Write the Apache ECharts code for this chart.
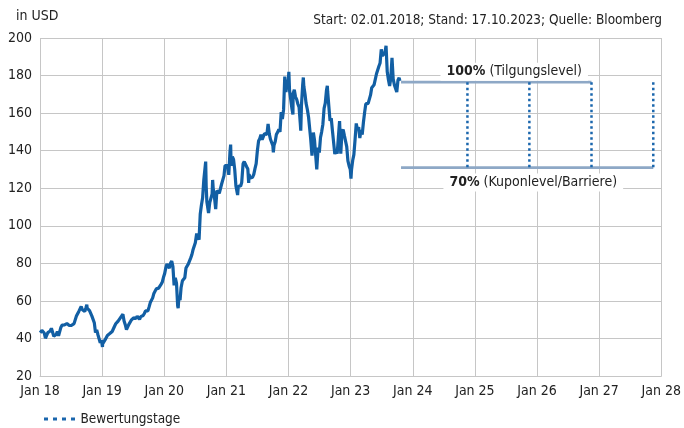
<!DOCTYPE html>
<html><head><meta charset="utf-8">
<script src="https://cdn.jsdelivr.net/npm/echarts@6/dist/echarts.min.js"></script>
<style>html,body{margin:0;padding:0;background:#fff}#c{width:684px;height:428px}</style>
</head><body><div id="c"></div>
<script>
const FONT = "'Liberation Sans Narrow','DejaVu Sans Condensed','Arial Narrow',sans-serif";
const xTicks = ['Jan 18','Jan 19','Jan 20','Jan 21','Jan 22','Jan 23','Jan 24','Jan 25','Jan 26','Jan 27','Jan 28'];
const yTicks = [20,40,60,80,100,120,140,160,180,200];

const priceDates = [
'2018-01-02','2018-01-12','2018-01-19','2018-01-26','2018-02-02','2018-02-09','2018-02-16','2018-02-23','2018-03-02','2018-03-09','2018-03-16','2018-03-23','2018-03-29','2018-04-06','2018-04-13','2018-04-20','2018-04-27','2018-05-04','2018-05-11','2018-05-18','2018-05-25','2018-06-01','2018-06-08','2018-06-15','2018-06-22','2018-06-29','2018-07-06','2018-07-13','2018-07-20','2018-07-27','2018-08-03','2018-08-10','2018-08-17','2018-08-24','2018-08-31','2018-09-07','2018-09-14','2018-09-21','2018-09-28','2018-10-03','2018-10-05','2018-10-12','2018-10-19','2018-10-26','2018-11-02','2018-11-09','2018-11-16','2018-11-23','2018-11-30','2018-12-07','2018-12-14','2018-12-21','2018-12-28',
'2019-01-03','2019-01-04','2019-01-11','2019-01-18','2019-01-25','2019-02-01','2019-02-08','2019-02-15','2019-02-22','2019-03-01','2019-03-08','2019-03-15','2019-03-22','2019-03-29','2019-04-05','2019-04-12','2019-04-18','2019-04-26','2019-05-03','2019-05-10','2019-05-17','2019-05-24','2019-05-31','2019-06-07','2019-06-14','2019-06-21','2019-06-28','2019-07-05','2019-07-12','2019-07-19','2019-07-26','2019-08-02','2019-08-09','2019-08-16','2019-08-23','2019-08-30','2019-09-06','2019-09-13','2019-09-20','2019-09-27','2019-10-04','2019-10-11','2019-10-18','2019-10-25','2019-11-01','2019-11-08','2019-11-15','2019-11-22','2019-11-29','2019-12-06','2019-12-13','2019-12-20','2019-12-27','2019-12-31',
'2020-01-03','2020-01-10','2020-01-17','2020-01-24','2020-01-31','2020-02-07','2020-02-14','2020-02-21','2020-02-28','2020-03-06','2020-03-13','2020-03-20','2020-03-23','2020-03-27','2020-04-03','2020-04-09','2020-04-17','2020-04-24','2020-05-01','2020-05-08','2020-05-15','2020-05-22','2020-05-29','2020-06-05','2020-06-12','2020-06-19','2020-06-26','2020-07-02','2020-07-10','2020-07-17','2020-07-24','2020-07-31','2020-08-07','2020-08-14','2020-08-21','2020-08-28','2020-09-01','2020-09-04','2020-09-08','2020-09-11','2020-09-18','2020-09-25','2020-10-02','2020-10-09','2020-10-12','2020-10-16','2020-10-23','2020-10-30','2020-11-06','2020-11-13','2020-11-20','2020-11-27','2020-12-04','2020-12-11','2020-12-18','2020-12-24','2020-12-31',
'2021-01-08','2021-01-15','2021-01-22','2021-01-26','2021-01-29','2021-02-05','2021-02-12','2021-02-19','2021-02-26','2021-03-05','2021-03-08','2021-03-12','2021-03-19','2021-03-26','2021-04-01','2021-04-09','2021-04-16','2021-04-23','2021-04-30','2021-05-07','2021-05-12','2021-05-14','2021-05-21','2021-05-28','2021-06-04','2021-06-11','2021-06-18','2021-06-25','2021-07-02','2021-07-09','2021-07-16','2021-07-23','2021-07-30','2021-08-06','2021-08-13','2021-08-20','2021-08-27','2021-09-03','2021-09-10','2021-09-17','2021-09-24','2021-10-01','2021-10-04','2021-10-08','2021-10-15','2021-10-22','2021-10-29','2021-11-05','2021-11-12','2021-11-19','2021-11-26','2021-12-03','2021-12-10','2021-12-17','2021-12-23','2021-12-31',
'2022-01-03','2022-01-07','2022-01-14','2022-01-21','2022-01-27','2022-01-28','2022-02-04','2022-02-11','2022-02-18','2022-02-25','2022-03-04','2022-03-11','2022-03-14','2022-03-18','2022-03-25','2022-03-29','2022-04-01','2022-04-08','2022-04-14','2022-04-22','2022-04-29','2022-05-06','2022-05-11','2022-05-13','2022-05-19','2022-05-20','2022-05-27','2022-06-03','2022-06-10','2022-06-16','2022-06-17','2022-06-24','2022-07-01','2022-07-08','2022-07-15','2022-07-22','2022-07-29','2022-08-05','2022-08-12','2022-08-17','2022-08-19','2022-08-26','2022-09-02','2022-09-09','2022-09-16','2022-09-23','2022-09-30','2022-10-07','2022-10-14','2022-10-21','2022-10-28','2022-11-04','2022-11-11','2022-11-18','2022-11-25','2022-12-02','2022-12-09','2022-12-16','2022-12-23','2022-12-30',
'2023-01-03','2023-01-06','2023-01-13','2023-01-20','2023-01-27','2023-02-03','2023-02-10','2023-02-17','2023-02-24','2023-03-03','2023-03-10','2023-03-17','2023-03-24','2023-03-31','2023-04-06','2023-04-14','2023-04-21','2023-04-28','2023-05-05','2023-05-12','2023-05-19','2023-05-26','2023-06-02','2023-06-09','2023-06-16','2023-06-23','2023-06-30','2023-07-07','2023-07-14','2023-07-21','2023-07-28','2023-07-31','2023-08-04','2023-08-11','2023-08-18','2023-08-25','2023-09-01','2023-09-08','2023-09-15','2023-09-22','2023-09-29','2023-10-06','2023-10-13','2023-10-17'
];
const priceValues = [
43.06,44.27,44.6,42.9,40.1,39.1,43.1,43.8,44.0,45.4,44.5,41.2,41.9,42.1,43.7,41.4,40.6,46.0,47.1,46.6,47.2,47.6,47.9,47.2,46.9,46.3,47.0,47.6,47.9,47.7,51.9,51.9,54.4,54.0,57.0,55.3,55.9,54.4,56.4,58.0,56.1,55.5,54.8,54.1,51.9,51.9,48.4,43.1,44.6,42.1,41.4,37.7,39.1,
35.5,37.1,38.1,39.2,39.4,41.6,42.6,42.6,43.2,43.7,43.2,46.5,47.8,47.5,49.25,49.7,50.97,51.1,52.9,49.3,47.3,44.7,43.8,47.5,48.2,49.7,49.5,51.0,50.8,50.6,51.9,51.0,50.2,51.6,50.7,52.2,53.3,54.7,54.4,54.7,56.8,59.1,59.1,61.6,63.96,65.0,66.4,65.4,66.8,67.7,68.8,69.9,72.4,73.4,
74.4,77.6,79.7,79.6,77.4,80.0,81.2,78.3,68.3,72.3,69.5,57.3,56.1,61.9,60.4,67.0,70.7,70.7,72.3,77.5,76.9,79.7,79.5,82.9,84.7,87.4,88.4,91.0,95.9,96.3,92.6,106.3,111.1,114.9,124.4,124.8,134.2,121.0,112.8,112.0,106.8,112.3,113.0,117.0,124.4,119.0,115.0,108.9,118.7,119.3,117.3,116.6,122.25,122.4,126.7,132.0,132.7,
132.05,127.14,139.07,143.2,131.96,136.76,135.37,129.87,121.26,121.42,116.36,121.03,119.99,121.21,123.0,133.0,134.16,134.32,131.46,130.21,122.77,127.45,125.43,124.61,125.89,127.35,130.46,133.11,139.96,145.11,146.39,148.56,145.86,146.14,149.1,148.19,148.6,154.3,148.97,146.06,146.92,142.65,139.14,142.9,144.84,148.69,149.8,151.28,149.99,160.55,156.81,161.84,179.45,171.14,176.28,177.57,
182.01,172.17,173.07,162.41,159.22,170.33,172.39,168.64,167.3,164.85,163.17,154.73,150.62,163.98,174.72,178.96,174.31,170.09,165.29,161.79,157.65,157.28,146.5,147.11,137.35,137.59,149.64,145.38,137.13,130.06,131.56,141.66,138.93,147.04,150.17,154.09,162.51,165.35,172.1,174.55,171.52,163.62,155.81,157.37,150.7,150.43,138.2,140.09,138.38,147.27,155.74,138.38,149.7,151.29,148.11,147.81,142.16,134.51,131.86,129.93,
125.07,129.62,134.76,137.87,145.93,154.5,151.01,152.55,146.71,151.03,148.5,155.0,160.25,164.9,164.66,165.21,165.02,169.68,173.57,172.57,175.16,175.43,180.95,180.96,184.92,186.68,193.97,190.68,190.69,191.94,195.83,196.45,181.99,177.79,174.49,178.61,189.46,178.18,175.01,174.79,171.21,177.49,178.85,177.15
];

const levelStart = '2023-10-24';
const level100 = 176.5, level100End = '2026-11-17';
const level70 = 131, level70End = '2027-11-15';
const valuationDates = ['2024-11-18','2025-11-17','2026-11-17','2027-11-15'];
const label100 = {date:'2025-08-20', value:182};
const label70 = {date:'2025-12-10', value:123};

function dy(s){
  const d = new Date(s+'T00:00:00Z');
  const y = d.getUTCFullYear();
  const a = Date.UTC(y,0,1), b = Date.UTC(y+1,0,1);
  return y + (d.getTime()-a)/(b-a);
}

const priceData = priceDates.map((d,i)=>[dy(d), priceValues[i]]);
const valData = [];
valuationDates.forEach(d=>{ const x=dy(d); valData.push([x,level100],[x,level70],[x,'-']); });

const chart = echarts.init(document.getElementById('c'), null, {renderer:'canvas'});
const gridCol = '#c6c6c6';
const txt = '#222';
chart.setOption({
  animation:false,
  backgroundColor:'#fff',
  textStyle:{fontFamily:FONT},
  title:[
    {text:'in USD', left:11, top:4, textStyle:{fontFamily:FONT,fontSize:14,fontWeight:'normal',color:txt}},
    {text:'Start: 02.01.2018; Stand: 17.10.2023; Quelle: Bloomberg', right:17, top:8, textStyle:{fontFamily:FONT,fontSize:13.5,fontWeight:'normal',color:txt}}
  ],
  grid:{left:40,right:17,top:38,bottom:52,containLabel:false},
  legend:{
    left:44, top:412, padding:0, itemWidth:32, itemHeight:3, itemGap:6,
    data:[{name:'Bewertungstage', icon:'path://M0,0h4v3h-4z M9,0h4v3h-4z M18,0h4v3h-4z M27,0h4v3h-4z'}],
    textStyle:{fontFamily:FONT,fontSize:13.5,color:txt}
  },
  xAxis:{
    type:'value', min:2018, max:2028, interval:1,
    axisLine:{show:true,lineStyle:{color:gridCol}},
    axisTick:{show:false},
    splitLine:{show:true,lineStyle:{color:gridCol,width:1}},
    axisLabel:{fontFamily:FONT,fontSize:14,color:txt,margin:8,formatter:v=>xTicks[Math.round(v-2018)]}
  },
  yAxis:{
    type:'value', min:yTicks[0], max:yTicks[yTicks.length-1], interval:20,
    axisLine:{show:false},
    axisTick:{show:false},
    splitLine:{show:true,lineStyle:{color:gridCol,width:1}},
    axisLabel:{fontFamily:FONT,fontSize:14,color:txt,margin:8}
  },
  series:[
    {name:'Kurs', type:'line', data:priceData, showSymbol:false, symbol:'none',
     lineStyle:{color:'#125fa4',width:3.2}, z:5},
    {name:'100%', type:'line', data:[[dy(levelStart),level100],[dy(level100End),level100]], symbol:'none',
     lineStyle:{color:'#8ea8c6',width:2.8}, z:3},
    {name:'70%', type:'line', data:[[dy(levelStart),level70],[dy(level70End),level70]], symbol:'none',
     lineStyle:{color:'#8ea8c6',width:2.8}, z:3},
    {name:'Bewertungstage', type:'line', data:valData, symbol:'none', connectNulls:false,
     lineStyle:{color:'#1a66ad',width:2.5,type:[2.5,3]}, itemStyle:{color:'#1a66ad'}, z:4},
    {name:'labels', type:'scatter', symbolSize:0, z:6, itemStyle:{opacity:1},
     data:[
       {value:[dy(label100.date),label100.value], label:{formatter:'{b|100%} (Tilgungslevel)'}},
       {value:[dy(label70.date),label70.value], label:{formatter:'{b|70%} (Kuponlevel/Barriere)'}}
     ],
     label:{show:true, position:'inside', fontFamily:FONT, fontSize:14, color:txt, opacity:1,
       backgroundColor:'#fff', padding:[2,6,2,6],
       rich:{b:{fontFamily:FONT,fontSize:14,fontWeight:'bold',color:txt}}}
    }
  ]
});
</script>
</body></html>
